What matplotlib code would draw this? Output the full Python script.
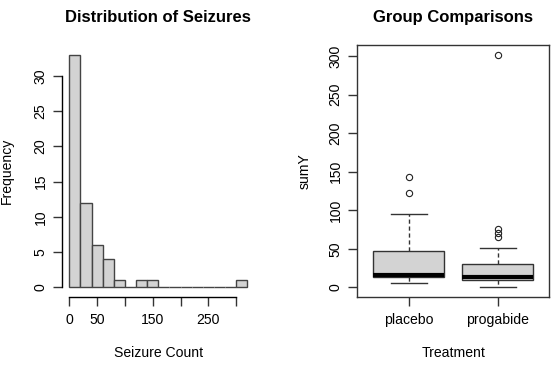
import numpy as np
import matplotlib
matplotlib.use("Agg")
import matplotlib.pyplot as plt

plt.rcParams['font.family'] = ['Liberation Sans', 'DejaVu Sans']
plt.rcParams['font.size'] = 10.1

# histogram data (bins of width 20)
bin_edges = np.arange(0, 340, 20)
counts = [33, 12, 6, 4, 1, 0, 1, 1, 0, 0, 0, 0, 0, 0, 0, 1]
hist_xticks = [0, 50, 100, 150, 200, 250, 300]
hist_xlabels = ['0', '50', '', '150', '', '250', '']
hist_yticks = [0, 5, 10, 15, 20, 25, 30]

# boxplot summaries per group
groups = ['placebo', 'progabide']
q1 = [13, 10]
medians = [16, 13.5]
q3 = [47.5, 30.5]
whis_lo = [6, 0]
whis_hi = [95, 51]
outliers = [[123, 143], [66, 71, 76, 302]]
box_yticks = [0, 50, 100, 150, 200, 250, 300]

fig = plt.figure(figsize=(5.54, 3.65), dpi=100)
ax1 = fig.add_axes([62.2/554, 0.1871, 192.2/554, 0.6885])
ax2 = fig.add_axes([357.3/554, 0.1871, 192/554, 0.6885])

# --- histogram ---
ax1.bar(bin_edges[:-1], counts, width=20, align='edge', color='#D3D3D3',
        edgecolor='#444444', linewidth=1)
ax1.set_xlim(-12.8, 332.8)
ax1.set_ylim(-1.32, 34.32)
for s in ['top', 'right']:
    ax1.spines[s].set_visible(False)
ax1.spines['left'].set_bounds(0, 30)
ax1.spines['bottom'].set_bounds(0, 300)
ax1.set_xticks(hist_xticks)
ax1.set_xticklabels(hist_xlabels)
ax1.set_yticks(hist_yticks)
ax1.set_title('Distribution of Seizures', fontsize=12, fontweight='bold', pad=17)
ax1.set_xlabel('Seizure Count', va='center')
ax1.xaxis.set_label_coords(0.5, -56.4/250.2)
ax1.set_ylabel('Frequency', va='center')
ax1.yaxis.set_label_coords(-55/192.2, 0.5)

# --- boxplot ---
stats = []
for i, g in enumerate(groups):
    stats.append(dict(label=g, q1=q1[i], med=medians[i], q3=q3[i],
                      whislo=whis_lo[i], whishi=whis_hi[i], fliers=outliers[i]))
ax2.bxp(stats, positions=[1, 2], widths=0.8, capwidths=0.4, patch_artist=True,
        boxprops=dict(facecolor='#D3D3D3', edgecolor='#333333', linewidth=1),
        medianprops=dict(color='black', linewidth=3, solid_capstyle='butt'),
        whiskerprops=dict(color='#333333', linewidth=1, linestyle=(0, (3, 2))),
        capprops=dict(color='#333333', linewidth=1),
        flierprops=dict(marker='o', markerfacecolor='none', markeredgecolor='#222222',
                        markersize=4.5, markeredgewidth=0.8))
ax2.set_xlim(0.42, 2.58)
ax2.set_ylim(-12.08, 314.08)
ax2.set_yticks(box_yticks)
ax2.set_xticks([1, 2])
ax2.set_xticklabels(groups)
ax2.set_title('Group Comparisons', fontsize=12, fontweight='bold', pad=17)
ax2.set_xlabel('Treatment', va='center')
ax2.xaxis.set_label_coords(0.5, -56.4/250.2)
ax2.set_ylabel('sumY', va='center')
ax2.yaxis.set_label_coords(-53/192, 0.5)
for s in ax2.spines.values():
    s.set_color('#333333')

for ax in (ax1, ax2):
    ax.tick_params(length=6.5, width=1, color='#333333')
    ax.tick_params(axis='x', pad=5)
    ax.tick_params(axis='y', labelrotation=90, pad=4)
    for lab in ax.get_yticklabels():
        lab.set_va('center')
    for s in ax.spines.values():
        s.set_linewidth(1)

fig.savefig('out.png', dpi=100)
